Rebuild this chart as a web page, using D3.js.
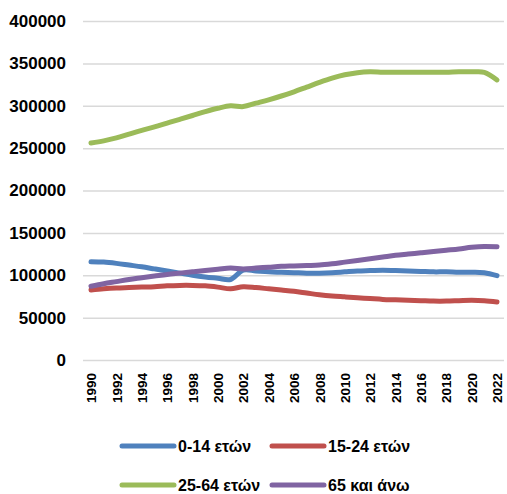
<!DOCTYPE html>
<html>
<head>
<meta charset="utf-8">
<script src="https://cdn.jsdelivr.net/npm/d3@7"></script>
<style>
  body { margin: 0; background: #fff; }
  text { font-family: "Liberation Sans", Arial, sans-serif; font-weight: bold; fill: #000; }
</style>
</head>
<body>
<div id="chart"></div>
<script>
var years = d3.range(1990, 2023);
var yTicks = [0, 50000, 100000, 150000, 200000, 250000, 300000, 350000, 400000];
var names = ["0-14 ετών", "15-24 ετών", "25-64 ετών", "65 και άνω"];
var colors = ["#4F81BD", "#C0504D", "#9BBB59", "#8064A2"];

var age0_14 = [116000, 115500, 114000, 112000, 110000, 107500, 105000, 102500, 100000, 98000, 96500, 95000,
  106000, 105000, 104000, 103500, 103000, 102500, 102500, 103000, 104000, 105000, 105500, 106000,
  105500, 105000, 104500, 104000, 104000, 103500, 103500, 103000, 99500];
var age15_24 = [82500, 84000, 85000, 85500, 86000, 86500, 87500, 88000, 88000, 87500, 86000, 84000,
  86500, 85500, 84000, 82500, 81000, 79000, 77000, 75500, 74500, 73500, 72500, 71500,
  71000, 70500, 70000, 69500, 69500, 70000, 70500, 70000, 68500];
var age25_64 = [256000, 258500, 262000, 266500, 271000, 275000, 279500, 284000, 288500, 293000, 297000, 300000,
  299000, 303000, 307000, 311500, 316500, 322000, 327500, 332500, 336500, 339000, 340000, 339500,
  339500, 339500, 339500, 339500, 339500, 340000, 340000, 339500, 330500];
var age65 = [87000, 90000, 92500, 95000, 97000, 99000, 101000, 102500, 104000, 105500, 107000, 108500,
  107500, 108500, 109500, 110500, 111000, 111500, 112000, 113500, 115500, 117500, 119500, 121500,
  123500, 125000, 126500, 128000, 129500, 131000, 133000, 134000, 133500];

var series = [age0_14, age15_24, age25_64, age65];

var width = 507,
    height = 494;

var svg = d3.select("#chart").append("svg")
    .attr("width", width)
    .attr("height", height);

var x = d3.scalePoint().domain(years).range([91, 497]);
var y = d3.scaleLinear().domain([0, 400000]).range([360, 21]);

// gridlines + y labels
var yAxis = svg.append("g")
    .attr("transform", "translate(83,0)")
    .call(d3.axisLeft(y).tickValues(yTicks).tickSize(-421).tickPadding(17).tickFormat(d3.format("d")));
yAxis.select(".domain").remove();
yAxis.selectAll("line").attr("stroke", "#D9D9D9").attr("stroke-width", 1.5);
yAxis.selectAll("text").style("font-size", "17px");

// x labels
var xAxis = svg.append("g")
    .attr("transform", "translate(0,360)")
    .call(d3.axisBottom(x).tickValues(years.filter(function(d){ return d % 2 == 0; })).tickSize(0));
xAxis.select(".domain").remove();
xAxis.selectAll("text")
    .style("font-size", "13.5px")
    .attr("text-anchor", "end")
    .attr("transform", "rotate(-90)")
    .attr("x", -13)
    .attr("y", 0)
    .attr("dy", "0.35em");

var line = d3.line()
    .x(function(d, i) { return x(years[i]); })
    .y(function(d) { return y(d); })
    .curve(d3.curveCatmullRom.alpha(0.5));

svg.selectAll(".serie")
    .data(series)
    .enter().append("path")
    .attr("class", "serie")
    .attr("d", line)
    .attr("fill", "none")
    .attr("stroke", function(d, i) { return colors[i]; })
    .attr("stroke-width", 5)
    .attr("stroke-linecap", "round")
    .attr("stroke-linejoin", "round");

// legend
var legendPos = [[120, 446], [270, 446], [120, 485], [270, 485]];
var legend = svg.selectAll(".leg")
    .data(names)
    .enter().append("g")
    .attr("class", "leg")
    .attr("transform", function(d, i) { return "translate(" + legendPos[i][0] + "," + legendPos[i][1] + ")"; });
legend.append("line")
    .attr("x1", 2).attr("x2", 54)
    .attr("stroke", function(d, i) { return colors[i]; })
    .attr("stroke-width", 5)
    .attr("stroke-linecap", "round");
legend.append("text")
    .attr("x", 58)
    .attr("dy", "0.36em")
    .style("font-size", "16px")
    .text(function(d) { return d; });
</script>
</body>
</html>
